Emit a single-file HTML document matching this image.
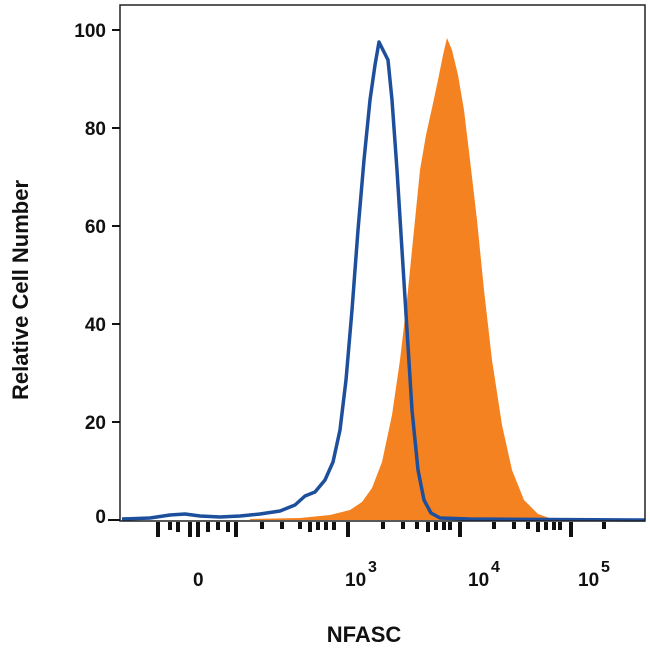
<!DOCTYPE html><html><head><style>body{margin:0;background:#fff}svg{display:block}text{font-family:"Liberation Sans",sans-serif;font-weight:bold;fill:#111}</style></head><body>
<svg width="650" height="650" viewBox="0 0 650 650">
<rect x="0" y="0" width="650" height="650" fill="#fff"/>
<path d="M250,519 L300,518 L330,515 L350,510 L362,502 L372,488 L382,462 L392,415 L400,360 L407,300 L414,230 L420,170 L426,135 L432,108 L438,80 L443,55 L447,38 L452,50 L458,75 L464,110 L470,160 L477,220 L484,290 L492,360 L502,425 L512,470 L524,500 L538,514 L552,519 L560,520 L250,520Z" fill="#f58220"/>
<path d="M122,519 L150,518 L170,515 L185,514 L200,516 L220,517 L240,516 L260,514 L280,511 L295,505 L305,496 L315,492 L325,480 L333,462 L340,430 L346,380 L352,310 L358,230 L364,160 L370,100 L375,65 L379,42 L384,52 L388,60 L392,100 L397,170 L402,250 L407,330 L412,410 L418,470 L424,500 L431,513 L440,518 L470,519 L645,520" fill="none" stroke="#1d4f9c" stroke-width="3.5" stroke-linejoin="round"/>
<path d="M120,5 V521 H645 V5 Z" fill="none" stroke="#222" stroke-width="1.5"/>
<g stroke="#111" stroke-width="2">
<line x1="112" y1="30" x2="120" y2="30"/><line x1="112" y1="128" x2="120" y2="128"/><line x1="112" y1="226" x2="120" y2="226"/><line x1="112" y1="324" x2="120" y2="324"/><line x1="112" y1="422" x2="120" y2="422"/><line x1="108" y1="520" x2="120" y2="520"/>
</g>
<g stroke="#111" stroke-width="4">
<line x1="158" y1="522" x2="158" y2="537"/><line x1="170" y1="522" x2="170" y2="530"/><line x1="178" y1="522" x2="178" y2="532"/><line x1="190" y1="522" x2="190" y2="537"/><line x1="198" y1="522" x2="198" y2="537"/><line x1="208" y1="522" x2="208" y2="532"/><line x1="218" y1="522" x2="218" y2="530"/><line x1="228" y1="522" x2="228" y2="532"/><line x1="236" y1="522" x2="236" y2="537"/>
<line x1="262" y1="522" x2="262" y2="529"/><line x1="282" y1="522" x2="282" y2="529"/><line x1="300" y1="522" x2="300" y2="529"/><line x1="310" y1="522" x2="310" y2="532"/><line x1="318" y1="522" x2="318" y2="530"/><line x1="326" y1="522" x2="326" y2="530"/><line x1="334" y1="522" x2="334" y2="530"/><line x1="348" y1="522" x2="348" y2="537"/>
<line x1="383" y1="522" x2="383" y2="529"/><line x1="403" y1="522" x2="403" y2="529"/><line x1="417" y1="522" x2="417" y2="529"/><line x1="428" y1="522" x2="428" y2="532"/><line x1="436" y1="522" x2="436" y2="530"/><line x1="444" y1="522" x2="444" y2="530"/><line x1="450" y1="522" x2="450" y2="530"/><line x1="460" y1="522" x2="460" y2="537"/>
<line x1="494" y1="522" x2="494" y2="529"/><line x1="514" y1="522" x2="514" y2="529"/><line x1="528" y1="522" x2="528" y2="529"/><line x1="538" y1="522" x2="538" y2="532"/><line x1="546" y1="522" x2="546" y2="530"/><line x1="554" y1="522" x2="554" y2="530"/><line x1="560" y1="522" x2="560" y2="530"/><line x1="571" y1="522" x2="571" y2="537"/><line x1="604" y1="522" x2="604" y2="529"/>
</g>
<g font-size="19" text-anchor="end">
<text x="106" y="37">100</text><text x="106" y="135">80</text><text x="106" y="233">60</text><text x="106" y="331">40</text><text x="106" y="429">20</text><text x="106" y="523">0</text>
</g>
<g font-size="19">
<text x="193" y="586">0</text>
<text x="345" y="586">10</text><text x="368" y="572" font-size="16">3</text>
<text x="468" y="586">10</text><text x="491" y="572" font-size="16">4</text>
<text x="578" y="586">10</text><text x="601" y="572" font-size="16">5</text>
</g>
<text x="364" y="642" font-size="22" text-anchor="middle">NFASC</text>
<text transform="translate(28,290) rotate(-90)" font-size="22" text-anchor="middle">Relative Cell Number</text>
</svg></body></html>
